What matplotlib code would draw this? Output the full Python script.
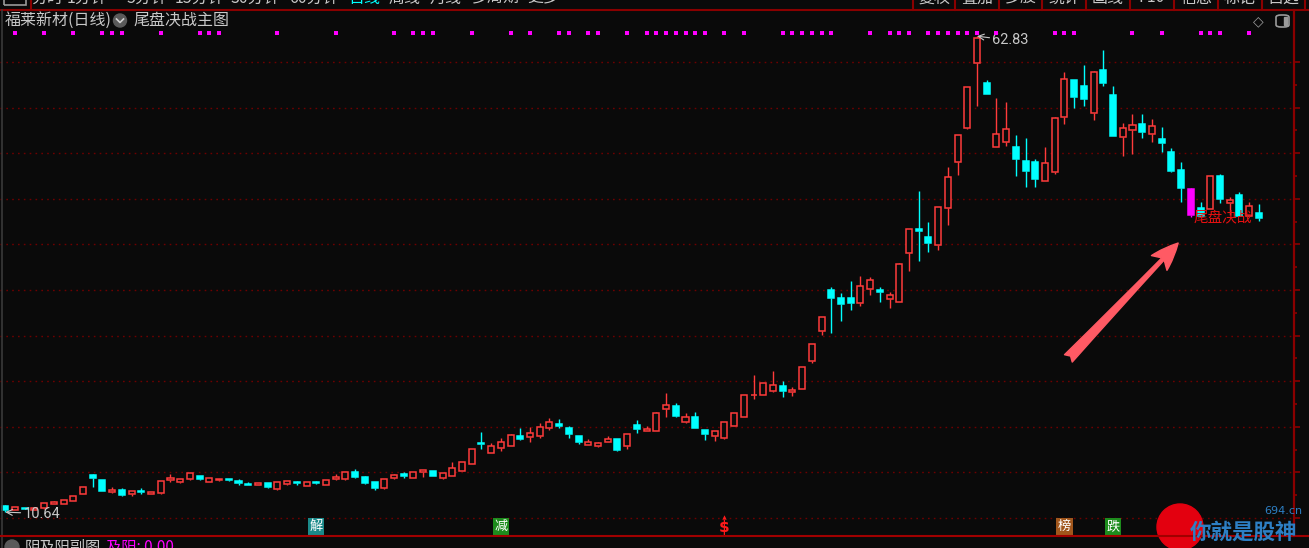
import numpy as np
import matplotlib
matplotlib.use('Agg')
import matplotlib.pyplot as plt
from matplotlib.patches import Ellipse, Rectangle, FancyBboxPatch
from matplotlib.lines import Line2D

plt.rcParams['font.family'] = ['Noto Sans CJK SC', 'DejaVu Sans']

# daily bars (index 0 = first visible day)
opens = [11.32, 10.88, 11.13, 10.90, 11.06, 11.53, 11.50, 11.90, 12.60, 14.75,
         14.17, 12.81, 13.10, 12.60, 13.00, 12.63, 12.70, 14.13, 13.91, 14.24,
         14.60, 13.95, 14.13, 14.31, 14.06, 13.77, 13.62, 13.80, 13.14, 13.76,
         13.91, 13.55, 13.95, 13.66, 14.24, 14.24, 15.04, 14.53, 13.95, 13.25,
         14.39, 14.82, 14.39, 15.04, 15.15, 14.35, 14.64, 15.19, 15.89, 18.19,
         17.13, 17.64, 17.93, 18.95, 18.88, 19.02, 19.83, 20.31, 19.83, 18.99,
         17.97, 17.93, 18.37, 18.63, 17.93, 20.23, 19.57, 19.57, 21.92, 22.28,
         20.53, 21.04, 19.65, 19.02, 18.73, 20.12, 21.11, 23.45, 23.52, 23.96,
         24.51, 23.82, 24.11, 27.25, 30.54, 35.00, 34.09, 34.09, 33.54, 35.07,
         35.00, 33.98, 33.68, 39.09, 41.65, 40.78, 39.90, 44.03, 49.07, 52.73,
         59.93, 57.66, 50.72, 51.26, 50.64, 49.11, 49.00, 46.99, 47.98, 54.00,
         58.03, 57.37, 54.44, 59.12, 56.38, 51.81, 52.51, 53.24, 52.07, 51.59,
         50.09, 48.16, 46.11, 44.03, 43.88, 47.50, 44.57, 45.42, 43.15, 43.41]
highs = [11.40, 11.20, 11.15, 11.20, 11.62, 11.90, 12.02, 12.42, 13.38, 14.80,
         14.20, 13.40, 13.25, 12.98, 13.25, 12.87, 14.08, 14.79, 14.33, 14.92,
         14.62, 14.37, 14.33, 14.33, 14.31, 13.98, 13.86, 13.82, 13.97, 14.08,
         14.10, 13.97, 14.06, 14.22, 14.82, 15.02, 15.34, 14.55, 13.97, 14.33,
         14.77, 15.00, 15.02, 15.28, 15.17, 14.92, 16.10, 16.12, 17.62, 19.40,
         18.19, 18.73, 19.20, 19.83, 19.94, 20.38, 20.93, 20.82, 20.09, 19.01,
         18.70, 18.33, 18.99, 18.65, 19.23, 20.75, 20.09, 21.57, 23.67, 22.57,
         21.48, 21.62, 19.67, 19.56, 20.51, 21.50, 23.54, 25.72, 24.79, 26.12,
         25.06, 24.33, 26.54, 29.13, 32.02, 35.29, 34.63, 35.99, 36.54, 36.39,
         35.29, 34.74, 37.91, 41.74, 45.86, 42.46, 44.08, 48.49, 52.01, 57.24,
         62.83, 58.03, 56.00, 55.58, 52.00, 51.63, 49.40, 50.64, 53.92, 58.87,
         58.05, 59.67, 58.96, 61.35, 57.33, 53.28, 54.30, 54.30, 53.79, 52.84,
         50.53, 49.04, 46.13, 44.61, 47.48, 47.68, 45.16, 45.71, 44.61, 44.39]
lows = [10.64, 10.85, 10.95, 10.85, 11.04, 11.50, 11.48, 11.88, 12.58, 13.44,
        13.00, 12.79, 12.41, 12.45, 12.63, 12.61, 12.68, 13.91, 13.80, 14.13,
        14.22, 13.93, 14.11, 14.11, 13.66, 13.60, 13.60, 13.29, 13.12, 13.62,
        13.62, 13.53, 13.78, 13.64, 14.22, 14.13, 14.44, 13.77, 13.10, 13.23,
        14.30, 14.42, 14.37, 14.53, 14.62, 14.33, 14.62, 15.17, 15.87, 17.53,
        17.11, 17.38, 17.91, 18.55, 18.33, 18.73, 19.68, 19.83, 18.73, 18.08,
        17.95, 17.75, 18.35, 17.38, 17.53, 19.28, 19.55, 19.55, 21.11, 21.04,
        20.38, 19.85, 18.55, 18.44, 18.71, 20.10, 21.09, 23.08, 23.50, 23.85,
        23.23, 23.41, 24.09, 26.96, 30.10, 30.25, 31.64, 32.80, 33.25, 34.45,
        33.65, 32.99, 33.66, 37.10, 38.22, 39.17, 39.39, 42.16, 47.61, 52.60,
        55.18, 56.47, 50.70, 50.83, 47.54, 46.33, 46.33, 46.97, 47.68, 53.17,
        54.92, 55.18, 53.64, 57.40, 51.90, 49.73, 49.88, 51.63, 51.26, 50.13,
        47.94, 44.65, 43.00, 43.00, 43.86, 44.50, 43.22, 43.13, 43.13, 42.57]
closes = [10.91, 11.17, 11.00, 11.13, 11.60, 11.79, 12.00, 12.40, 13.36, 14.39,
          13.00, 13.07, 12.56, 12.96, 12.85, 12.85, 14.06, 14.35, 14.31, 14.90,
          14.24, 14.35, 14.31, 14.13, 13.87, 13.62, 13.84, 13.40, 13.95, 14.06,
          13.80, 13.95, 13.80, 14.20, 14.53, 15.00, 14.46, 13.87, 13.33, 14.31,
          14.75, 14.64, 15.00, 15.26, 14.64, 14.90, 15.44, 16.10, 17.60, 18.08,
          17.86, 18.33, 19.10, 18.70, 19.28, 19.98, 20.53, 20.09, 19.17, 18.37,
          18.33, 18.19, 18.63, 17.46, 19.21, 19.72, 19.72, 21.55, 22.39, 21.18,
          21.04, 19.87, 19.17, 19.54, 20.49, 21.48, 23.52, 23.52, 24.77, 24.58,
          23.96, 24.03, 26.52, 29.11, 32.00, 34.09, 33.43, 33.54, 35.44, 36.10,
          34.78, 34.45, 37.89, 41.72, 41.51, 40.16, 44.06, 47.35, 51.99, 57.22,
          62.60, 56.49, 52.10, 52.69, 49.33, 48.09, 47.13, 48.96, 53.90, 58.14,
          56.13, 55.91, 58.94, 57.66, 51.92, 52.80, 53.09, 52.36, 52.95, 51.12,
          48.08, 46.18, 43.19, 43.15, 47.46, 44.94, 44.87, 43.15, 44.21, 42.86]

special_day = 122        # magenta bar with the 尾盘决战 signal
signal_days = [1, 4, 7, 10, 11, 12, 16, 20, 21, 22, 28, 34, 40, 42, 43, 44, 48, 52,
               54, 57, 58, 60, 61, 64, 66, 67, 68, 69, 70, 71, 72, 74, 76, 80, 81,
               82, 83, 84, 85, 89, 91, 92, 93, 95, 96, 97, 98, 99, 100, 102, 108,
               109, 110, 116, 119, 123, 124, 125, 128]
tag_days = [32, 51, 109, 114]
tag_text = ['解', '减', '榜', '跌']
tag_colors = ['#1b8a8a', '#1d8c1d', '#a0561c', '#1d8c1d']
dollar_day = 74
grid_prices = np.arange(10, 61, 5)

period_buttons = ['分时', '1分钟', '5分钟', '15分钟', '30分钟', '60分钟', '日线', '周线', '月线', '多周期', '更多']
period_x = [47, 87, 147, 200, 255, 314, 364, 405, 446, 496, 543]
tool_buttons = ['复权', '叠加', '多股', '统计', '画线', 'F10', '信息', '标记', '自选']
tool_seps = [913, 955, 999, 1042, 1086, 1130, 1174, 1218, 1262, 1305]

BG = '#0a0a0a'
RED = '#ff3b3b'
CYAN = '#00ffff'
MAGENTA = '#ff00ff'
DKRED = '#8a0000'
GRAY = '#c8c8c8'

W, H = 1309, 548


def fx(px):
    return px / W


def fy(py):
    return 1 - py / H


fig = plt.figure(figsize=(W / 100, H / 100), dpi=100, facecolor=BG)
ax = fig.add_axes([0, 12 / H, 1294 / W, 526 / H])
ax.set_facecolor(BG)
ax.set_xlim(-0.545, 132.62)
ax.set_ylim(8.026, 65.70)

for s in ['top', 'bottom', 'left']:
    ax.spines[s].set_visible(False)
ax.spines['right'].set_color(DKRED)
ax.spines['right'].set_linewidth(1.6)
ax.set_xticks([])
ax.yaxis.tick_right()
ax.set_yticks(grid_prices)
ax.set_yticks(grid_prices[:-1] + 2.5, minor=True)
ax.tick_params(axis='y', which='major', length=4.5, width=1.2, color=DKRED, labelright=False)
ax.tick_params(axis='y', which='minor', length=2.5, width=1.2, color=DKRED)

# dotted grid
for p in grid_prices:
    ax.axhline(p, color='#6e0000', lw=1.0, ls=(0, (1.2, 3)), zorder=1)

# candles
o = np.array(opens)
c = np.array(closes)
hi = np.array(highs)
lo = np.array(lows)
x = np.arange(len(o))
up = c >= o
cols = [RED if u else CYAN for u in up]
cols[special_day] = MAGENTA
faces = [BG if u else col for u, col in zip(up, cols)]
faces[special_day] = MAGENTA
body_lo = np.minimum(o, c)
body_hi = np.maximum(o, c)
ax.vlines(x, lo, body_lo, colors=cols, lw=1.0, zorder=2)
ax.vlines(x, body_hi, hi, colors=cols, lw=1.0, zorder=2)
ax.bar(x, np.maximum(body_hi - body_lo, 0.06), bottom=body_lo, width=0.62,
       color=faces, edgecolor=cols, linewidth=1.1, zorder=3)

# signal dots along the top
ax.scatter(signal_days, [0.9563] * len(signal_days), transform=ax.get_xaxis_transform(),
           marker='s', s=9, color=MAGENTA, linewidths=0, zorder=4)

# high / low labels
imax = int(np.argmax(hi))
imin = int(np.argmin(lo))
ax.annotate(f'{hi[imax]:.2f}', xy=(imax, hi[imax]), xytext=(11, -3), textcoords='offset points',
            color=GRAY, fontsize=10.5, family='Roboto', va='center', ha='left',
            arrowprops=dict(arrowstyle='->', color=GRAY, lw=0.8, shrinkA=0, shrinkB=0))
ax.annotate(f'{lo[imin]:.2f}', xy=(imin, lo[imin]), xytext=(13, -1), textcoords='offset points',
            color=GRAY, fontsize=10.5, family='Roboto', va='center', ha='left',
            arrowprops=dict(arrowstyle='->', color=GRAY, lw=0.8, shrinkA=0, shrinkB=0))

# 尾盘决战 signal text and the big arrow
ax.text(special_day + 0.3, 43.0, '尾盘决战', color='#e81010', fontsize=10.5, ha='left', va='center', zorder=5)
ax.annotate('', xy=(120.7, 40.15), xytext=(109.4, 27.5),
            arrowprops=dict(arrowstyle='fancy,head_length=0.9,head_width=0.7,tail_width=0.35',
                            color='#ff5a64', mutation_scale=22, shrinkA=0, shrinkB=0), zorder=5)

# event tags at the bottom
for d, t, col in zip(tag_days, tag_text, tag_colors):
    ax.text(d, 0.018, t, transform=ax.get_xaxis_transform(), color='white', fontsize=9.5,
            ha='center', va='center', zorder=5,
            bbox=dict(boxstyle='square,pad=0.12', fc=col, ec='none'))
ax.text(dollar_day, 0.016, '$', transform=ax.get_xaxis_transform(), color='#ff1a1a', fontsize=11,
        fontweight='bold', family='DejaVu Sans', ha='center', va='center', zorder=5)
ax.scatter([dollar_day], [0.036], transform=ax.get_xaxis_transform(), marker='^', s=10,
           color='#ff1a1a', linewidths=0, zorder=5)

# top toolbar (cut off by the screenshot, as in the original)
fig.add_artist(Line2D([0, 1], [fy(9.5), fy(9.5)], transform=fig.transFigure, color=DKRED, lw=1.5))
fig.add_artist(Line2D([fx(31), fx(31)], [fy(0), fy(9.5)], transform=fig.transFigure, color=DKRED, lw=1.5))
fig.add_artist(Rectangle((fx(4), fy(5)), fx(22) - fx(0), fy(0) - fy(5) + 0.01, transform=fig.transFigure,
                         fill=False, ec='#9a9a9a', lw=1.2))
for lab, px in zip(period_buttons, period_x):
    fig.text(fx(px), fy(-2), lab, color=CYAN if lab == '日线' else GRAY, fontsize=11.5, ha='center', va='center')
for sx in tool_seps:
    fig.add_artist(Line2D([fx(sx), fx(sx)], [fy(0), fy(9.5)], transform=fig.transFigure, color=DKRED, lw=1.5))
for lab, a, b in zip(tool_buttons, tool_seps[:-1], tool_seps[1:]):
    fig.text(fx((a + b) / 2), fy(-2), lab, color=GRAY, fontsize=11.5, ha='center', va='center')

# chart title
fig.text(fx(5), fy(20), '福莱新材(日线)', color=GRAY, fontsize=11.5, ha='left', va='center')
fig.add_artist(Ellipse((fx(120), fy(20.5)), 13 / W, 13 / H, transform=fig.transFigure, color='#5a5a5a'))
fig.add_artist(Line2D([fx(116.5), fx(120), fx(123.5)], [fy(19), fy(22.5), fy(19)], transform=fig.transFigure,
                      color='#d0d0d0', lw=1.2))
fig.text(fx(133), fy(20), '尾盘决战主图', color=GRAY, fontsize=11.5, ha='left', va='center')

# window icons, top right
fig.text(fx(1258), fy(21), '◇', color='#9a9a9a', fontsize=10, family='DejaVu Sans', ha='center', va='center')
fig.add_artist(FancyBboxPatch((fx(1276), fy(27)), 13 / W, 12 / H, boxstyle='round,pad=0,rounding_size=0.004',
                              transform=fig.transFigure, fill=False, ec='#9a9a9a', lw=1.2))
fig.add_artist(Rectangle((fx(1283.5), fy(25)), 3.5 / W, 8 / H, transform=fig.transFigure, color='#9a9a9a'))

# frame lines
fig.add_artist(Line2D([fx(1.5), fx(1.5)], [fy(10), fy(548)], transform=fig.transFigure, color='#3a3a3a', lw=1.2))
fig.add_artist(Line2D([0, 1], [fy(536), fy(536)], transform=fig.transFigure, color='#a00000', lw=1.5))

# sub chart header (cut off)
fig.add_artist(Ellipse((fx(12), fy(547)), 14 / W, 14 / H, transform=fig.transFigure, color='#5a5a5a'))
fig.text(fx(25), fy(547), '阴及阳副图', color=GRAY, fontsize=11, ha='left', va='center')
fig.text(fx(106), fy(547), '及阳: 0.00', color=MAGENTA, fontsize=11, ha='left', va='center')

# watermark
fig.add_artist(Ellipse((fx(1180), fy(527)), 46 / W, 46 / H, transform=fig.transFigure, color='#e3000f'))
fig.text(fx(1244), fy(532), '你就是股神', color='#2d7fc4', fontsize=15.5, fontweight='bold', ha='center', va='center')
fig.text(fx(1283), fy(511), '694.cn', color='#2d7fc4', fontsize=8, family='DejaVu Sans', ha='center', va='center')

fig.savefig('out.png', dpi=100, facecolor=BG)
